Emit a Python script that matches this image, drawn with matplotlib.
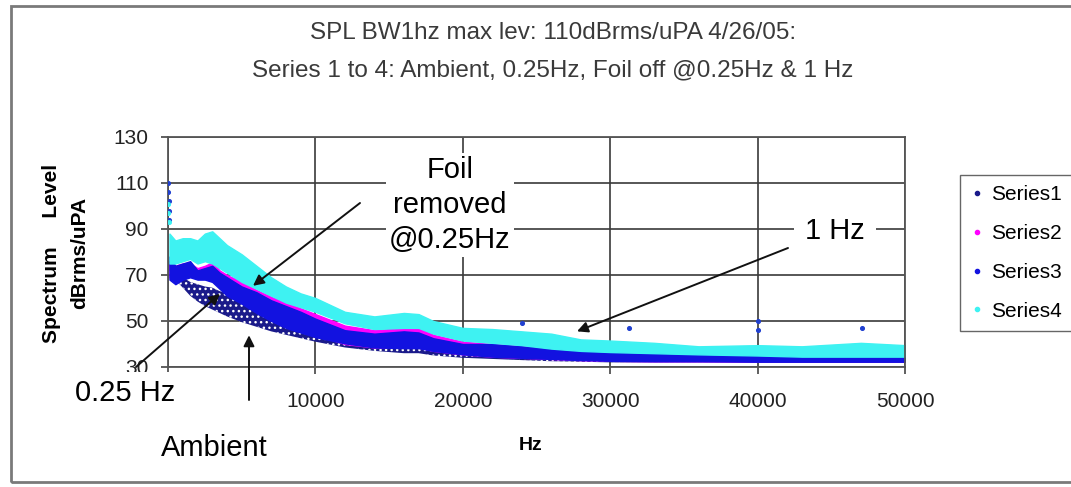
import numpy as np
import matplotlib
matplotlib.use("Agg")
import matplotlib.pyplot as plt
from matplotlib.lines import Line2D
from matplotlib.patches import Rectangle

plt.rcParams['font.family'] = ['Liberation Sans', 'DejaVu Sans']

# ---------------------------------------------------------------
# Data (Hz, dBrms/uPA): lower / upper edge
# of each noisy spectrum band
# ---------------------------------------------------------------
FREQ = [100, 500, 1000, 1500, 2000, 2500, 3000, 3500, 4000, 5000, 6000, 7000,
        8000, 9000, 10000, 12000, 14000, 16000, 17000, 18000, 20000, 22000,
        24000, 26000, 28000, 30000, 33000, 36000, 40000, 43000, 47000, 50000]

S1_HI = [76, 72, 69, 67, 66, 65, 64.5, 63, 62, 58.5, 55, 52, 49.5, 47.5, 45.5,
         42, 40, 39, 39, 38, 36.5, 35.5, 35, 34.5, 34, 34, 34, 34, 34, 34, 34.5, 34.5]
S1_LO = [72, 68, 64.5, 61, 58.5, 56.5, 55, 53.5, 52, 49.5, 47.5, 45.5, 44, 42.5, 41,
         38.5, 37, 36, 36, 35, 34, 33.5, 33, 32.5, 32.3, 32, 32, 32, 32, 32, 32, 32]

S2_HI = [76, 74, 75, 75, 73, 74, 75.5, 72, 70, 67, 63.5, 60.5, 58, 55.5, 53,
         48, 46, 47, 47, 44, 41, 40, 39, 38, 37, 36.5, 36, 35.5, 35.5, 35.5, 36, 36]
S2_LO = [69, 67, 69, 70, 69, 70, 69, 65, 62, 58.5, 54.5, 51, 48, 46, 44,
         40, 38.5, 38.5, 38.5, 37, 35.5, 34.5, 34, 33.5, 33, 32.7, 32.5, 32.5,
         32.3, 32.3, 32.3, 32.3]

S3_HI = [78, 74, 75, 76, 72, 73, 74, 71, 69, 65, 62.5, 59, 56.5, 54, 51,
         46, 44.5, 45.5, 45, 42.5, 40, 40, 39, 38, 37, 36.5, 36, 35.5, 35.5, 35.5, 36, 36]
S3_LO = [68, 66, 68, 69, 68, 68, 67, 64, 61, 57.5, 53.5, 50, 47, 45, 43,
         40.3, 38.5, 38.2, 38.2, 37, 35.5, 34.5, 34, 33.5, 33, 32.7, 32.5, 32.5,
         32.3, 32.3, 32.3, 32.3]

S4_HI = [88, 85, 86, 86, 85, 88, 89, 86, 83, 79, 74, 69, 65, 62, 60,
         54, 52, 53.5, 53, 50, 47, 46.5, 45.5, 44.5, 42, 41.5, 40.5, 39, 39.5,
         39, 40.5, 39.5]
S4_LO = [75, 75, 76, 77, 75, 76, 75, 73, 71, 67, 64, 61, 58, 56, 54,
         49, 46.5, 47, 47, 44.5, 41.5, 40.5, 39.5, 38, 37, 36.5, 36, 35.5, 35,
         34.5, 34.5, 34.5]

# isolated points (start-up transient + tonal spikes)
S3_PT_F = [0, 20, 40, 60, 80, 24000, 31300, 40000, 40050, 47100]
S3_PT_L = [110, 106, 102, 98, 94, 49, 47, 50, 46, 47]
S4_PT_F = [0, 30, 60]
S4_PT_L = [101, 97, 93]

SERIES = ['Series1', 'Series2', 'Series3', 'Series4']
COLORS = ['#1a1a8a', '#ff00ff', '#1212e0', '#3ef2f2']

X_TICKS = [0, 10000, 20000, 30000, 40000, 50000]
X_LABELS = ['', '10000', '20000', '30000', '40000', '50000']
Y_TICKS = [30, 50, 70, 90, 110, 130]

W, H = 1071, 487


def fx(px):
    return px / W


def fy(py):
    # pixel row measured from the top
    return 1 - py / H


fig = plt.figure(figsize=(W / 100, H / 100), dpi=100)
ax = fig.add_axes([fx(168), fy(367), fx(905) - fx(168), fy(137) - fy(367)])

bands = [(S1_LO, S1_HI), (S2_LO, S2_HI), (S3_LO, S3_HI), (S4_LO, S4_HI)]
for i, (lo, hi) in enumerate(bands):
    if i == 0:
        ax.fill_between(FREQ, lo, hi, facecolor=COLORS[i], edgecolor='white',
                        hatch='...', linewidth=0, zorder=2)
    else:
        ax.fill_between(FREQ, lo, hi, facecolor=COLORS[i], edgecolor=COLORS[i],
                        linewidth=1.0, zorder=2 + i * 0.1)
ax.scatter(S3_PT_F, S3_PT_L, s=7, color='#2040d0', zorder=3)
ax.scatter(S4_PT_F, S4_PT_L, s=7, color=COLORS[3], zorder=3)

ax.set_xlim(0, 50000)
ax.set_ylim(30, 130)
ax.set_xticks(X_TICKS)
ax.set_xticklabels(X_LABELS)
ax.set_yticks(Y_TICKS)
ax.tick_params(axis='both', direction='out', length=5, width=1.2,
               color='#444444', labelsize=15, labelcolor='#222222')
ax.tick_params(axis='x', pad=13)
ax.tick_params(axis='y', pad=9)
ax.grid(True, color='#3a3a3a', linewidth=1.2, zorder=1)
ax.set_axisbelow(True)
for sp in ax.spines.values():
    sp.set_color('#555555')
    sp.set_linewidth(1.3)

# arrows (heads in data units, tails in figure pixels)
arrows = [
    ((5767, 65.3), (360, 203)),    # Foil removed @0.25Hz
    ((3528, 61.8), (136, 367)),    # 0.25 Hz
    ((5495, 43.8), (249, 400)),    # Ambient
    ((27748, 45.5), (788, 248)),   # 1 Hz
]
for head, tail in arrows:
    ax.annotate('', xy=head, xycoords='data',
                xytext=(fx(tail[0]), fy(tail[1])), textcoords='figure fraction',
                arrowprops=dict(arrowstyle='-|>', color='#111111', lw=1.4,
                                shrinkA=0, shrinkB=0, mutation_scale=16),
                annotation_clip=False, zorder=4)

box = dict(facecolor='white', edgecolor='none', pad=2)
fig.text(fx(450), fy(205), 'Foil\nremoved\n@0.25Hz', ha='center', va='center',
         multialignment='center', fontsize=21, linespacing=1.3, bbox=box)
fig.text(fx(835), fy(231), '1 Hz', ha='center', va='center', fontsize=21,
         bbox=dict(facecolor='white', edgecolor='none', pad=8))
fig.text(fx(125), fy(393), '0.25 Hz', ha='center', va='center', fontsize=21,
         bbox=dict(facecolor='white', edgecolor='none', pad=5))
fig.text(fx(214), fy(448), 'Ambient', ha='center', va='center', fontsize=21)

# titles and axis labels
fig.text(fx(553), fy(33), 'SPL BW1hz max lev: 110dBrms/uPA 4/26/05:',
         ha='center', va='center', fontsize=17.5, color='#3a3a3a')
fig.text(fx(553), fy(70), 'Series 1 to 4: Ambient, 0.25Hz, Foil off @0.25Hz & 1 Hz',
         ha='center', va='center', fontsize=17.5, color='#3a3a3a')
fig.text(fx(531), fy(445), 'Hz', ha='center', va='center', fontsize=14,
         fontweight='bold')
fig.text(fx(66), fy(253), 'Spectrum     Level\ndBrms/uPA', ha='center',
         va='center', rotation=90, multialignment='center', fontsize=15,
         fontweight='bold', linespacing=1.6)

# legend
handles = [Line2D([], [], linestyle='none', marker='o', markersize=3,
                  color=c) for c in COLORS]
fig.legend(handles, SERIES, loc='upper left',
           bbox_to_anchor=(fx(960), fy(175)), fontsize=15, frameon=True,
           fancybox=False, edgecolor='#404040', handlelength=0.6,
           handletextpad=0.4, labelspacing=0.95, borderpad=0.5,
           borderaxespad=0)

# outer chart border
fig.add_artist(Rectangle((fx(11), fy(482)), fx(1100) - fx(11), fy(6) - fy(482),
                         transform=fig.transFigure, fill=False,
                         edgecolor='#7a7a7a', linewidth=2))

fig.savefig('out.png', dpi=100)
